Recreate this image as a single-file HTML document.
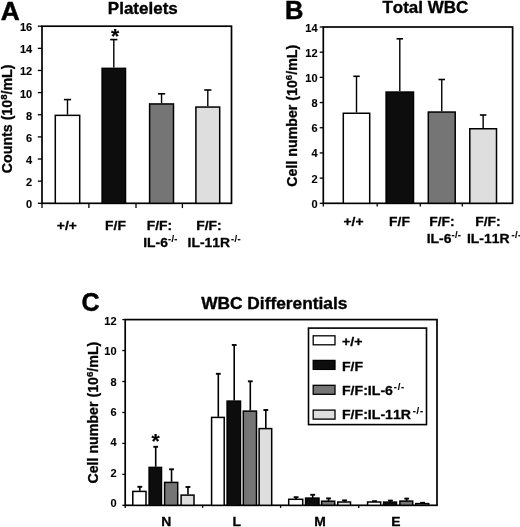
<!DOCTYPE html>
<html><head><meta charset="utf-8"><title>Figure</title>
<style>
html,body{margin:0;padding:0;background:#fff;}
svg{display:block;}
text{font-kerning:none;}
</style></head>
<body>
<svg width="520" height="527" viewBox="0 0 520 527">
<defs><filter id="soft" x="0" y="0" width="520" height="527" filterUnits="userSpaceOnUse"><feGaussianBlur stdDeviation="0.42"/></filter></defs>
<rect x="0" y="0" width="520" height="527" fill="#fff"/>
<g filter="url(#soft)">
<text transform="translate(0.7,19.7) scale(1.02,1)" font-size="25.8" text-anchor="start" font-family="Liberation Sans, sans-serif" font-weight="bold" stroke="#000" stroke-width="0.5" stroke-linejoin="round">A</text>
<text transform="translate(142.8,14.4) scale(1.09,1)" font-size="15.6" text-anchor="middle" font-family="Liberation Sans, sans-serif" font-weight="bold" stroke="#000" stroke-width="0.35" stroke-linejoin="round">Platelets</text>
<rect x="42" y="26.2" width="189.50" height="177.10" fill="none" stroke="#000" stroke-width="1.7"/>
<line x1="37.8" y1="203.3" x2="42" y2="203.3" stroke="#000" stroke-width="1.3"/>
<text transform="translate(32.2,207.94) scale(1.0,1)" font-size="11" text-anchor="end" font-family="Liberation Sans, sans-serif" font-weight="bold" stroke="#000" stroke-width="0.12" stroke-linejoin="round">0</text>
<line x1="37.8" y1="181.16" x2="42" y2="181.16" stroke="#000" stroke-width="1.3"/>
<text transform="translate(32.2,185.86) scale(1.0,1)" font-size="11" text-anchor="end" font-family="Liberation Sans, sans-serif" font-weight="bold" stroke="#000" stroke-width="0.12" stroke-linejoin="round">2</text>
<line x1="37.8" y1="159.03" x2="42" y2="159.03" stroke="#000" stroke-width="1.3"/>
<text transform="translate(32.2,163.79) scale(1.0,1)" font-size="11" text-anchor="end" font-family="Liberation Sans, sans-serif" font-weight="bold" stroke="#000" stroke-width="0.12" stroke-linejoin="round">4</text>
<line x1="37.8" y1="136.89" x2="42" y2="136.89" stroke="#000" stroke-width="1.3"/>
<text transform="translate(32.2,141.71) scale(1.0,1)" font-size="11" text-anchor="end" font-family="Liberation Sans, sans-serif" font-weight="bold" stroke="#000" stroke-width="0.12" stroke-linejoin="round">6</text>
<line x1="37.8" y1="114.75" x2="42" y2="114.75" stroke="#000" stroke-width="1.3"/>
<text transform="translate(32.2,119.64) scale(1.0,1)" font-size="11" text-anchor="end" font-family="Liberation Sans, sans-serif" font-weight="bold" stroke="#000" stroke-width="0.12" stroke-linejoin="round">8</text>
<line x1="37.8" y1="92.61" x2="42" y2="92.61" stroke="#000" stroke-width="1.3"/>
<text transform="translate(32.2,97.56) scale(1.0,1)" font-size="11" text-anchor="end" font-family="Liberation Sans, sans-serif" font-weight="bold" stroke="#000" stroke-width="0.12" stroke-linejoin="round">10</text>
<line x1="37.8" y1="70.47" x2="42" y2="70.47" stroke="#000" stroke-width="1.3"/>
<text transform="translate(32.2,75.49) scale(1.0,1)" font-size="11" text-anchor="end" font-family="Liberation Sans, sans-serif" font-weight="bold" stroke="#000" stroke-width="0.12" stroke-linejoin="round">12</text>
<line x1="37.8" y1="48.34" x2="42" y2="48.34" stroke="#000" stroke-width="1.3"/>
<text transform="translate(32.2,53.41) scale(1.0,1)" font-size="11" text-anchor="end" font-family="Liberation Sans, sans-serif" font-weight="bold" stroke="#000" stroke-width="0.12" stroke-linejoin="round">14</text>
<line x1="37.8" y1="26.2" x2="42" y2="26.2" stroke="#000" stroke-width="1.3"/>
<text transform="translate(32.2,31.34) scale(1.0,1)" font-size="11" text-anchor="end" font-family="Liberation Sans, sans-serif" font-weight="bold" stroke="#000" stroke-width="0.12" stroke-linejoin="round">16</text>
<line x1="42" y1="203.3" x2="42" y2="208.10000000000002" stroke="#000" stroke-width="1.3"/>
<line x1="88.9" y1="203.3" x2="88.9" y2="208.10000000000002" stroke="#000" stroke-width="1.3"/>
<line x1="136.0" y1="203.3" x2="136.0" y2="208.10000000000002" stroke="#000" stroke-width="1.3"/>
<line x1="182.4" y1="203.3" x2="182.4" y2="208.10000000000002" stroke="#000" stroke-width="1.3"/>
<text transform="translate(12.0,118.85) rotate(-90) scale(1.015,1)" font-size="14.0" text-anchor="middle" font-family="Liberation Sans, sans-serif" font-weight="bold" stroke="#000" stroke-width="0.3" stroke-linejoin="round">Counts (10<tspan font-size="9.5" dy="-5.0">8</tspan><tspan dy="5.0">/mL)</tspan></text>
<line x1="67.5" y1="114.6" x2="67.5" y2="99.6" stroke="#000" stroke-width="1.4"/>
<line x1="63.9" y1="99.6" x2="71.1" y2="99.6" stroke="#000" stroke-width="1.6"/>
<rect x="55.3" y="115.35" width="24.40" height="87.95" fill="#ffffff" stroke="#000" stroke-width="1.5"/>
<line x1="113.8" y1="67.6" x2="113.8" y2="39.6" stroke="#000" stroke-width="1.4"/>
<line x1="110.2" y1="39.6" x2="117.39999999999999" y2="39.6" stroke="#000" stroke-width="1.6"/>
<rect x="102.1" y="68.35" width="23.40" height="134.95" fill="#0d0d0d" stroke="#000" stroke-width="1.5"/>
<line x1="161.55" y1="103.2" x2="161.55" y2="93.8" stroke="#000" stroke-width="1.4"/>
<line x1="157.95000000000002" y1="93.8" x2="165.15" y2="93.8" stroke="#000" stroke-width="1.6"/>
<rect x="149.60000000000002" y="103.95" width="23.90" height="99.35" fill="#757575" stroke="#000" stroke-width="1.5"/>
<line x1="207.8" y1="106.3" x2="207.8" y2="90" stroke="#000" stroke-width="1.4"/>
<line x1="204.20000000000002" y1="90" x2="211.4" y2="90" stroke="#000" stroke-width="1.6"/>
<rect x="195.9" y="107.05" width="23.80" height="96.25" fill="#dedede" stroke="#000" stroke-width="1.5"/>
<text transform="translate(115.2,42.9) scale(1.0,1)" font-size="21" text-anchor="middle" font-family="Liberation Sans, sans-serif" font-weight="bold" stroke="#000" stroke-width="0.2" stroke-linejoin="round">*</text>
<text transform="translate(66.9,229.8) scale(1.045,1)" font-size="13.3" text-anchor="middle" font-family="Liberation Sans, sans-serif" font-weight="bold" stroke="#000" stroke-width="0.3" stroke-linejoin="round">+/+</text>
<text transform="translate(115.5,229.8) scale(1.045,1)" font-size="13.3" text-anchor="middle" font-family="Liberation Sans, sans-serif" font-weight="bold" stroke="#000" stroke-width="0.3" stroke-linejoin="round">F/F</text>
<text transform="translate(159.5,229.8) scale(1.045,1)" font-size="13.3" text-anchor="middle" font-family="Liberation Sans, sans-serif" font-weight="bold" stroke="#000" stroke-width="0.3" stroke-linejoin="round">F/F:</text>
<text transform="translate(209,229.8) scale(1.045,1)" font-size="13.3" text-anchor="middle" font-family="Liberation Sans, sans-serif" font-weight="bold" stroke="#000" stroke-width="0.3" stroke-linejoin="round">F/F:</text>
<text transform="translate(160.5,246.9) scale(1.045,1)" font-size="13.3" text-anchor="middle" font-family="Liberation Sans, sans-serif" font-weight="bold" stroke="#000" stroke-width="0.3" stroke-linejoin="round">IL-6<tspan font-size="9" dx="0" dy="-4.5" letter-spacing="0.3" stroke-width="0.15">-/-</tspan></text>
<text transform="translate(214.2,246.9) scale(1.045,1)" font-size="13.3" text-anchor="middle" font-family="Liberation Sans, sans-serif" font-weight="bold" stroke="#000" stroke-width="0.3" stroke-linejoin="round">IL-11R<tspan font-size="9" dx="1" dy="-4.5" letter-spacing="0.3" stroke-width="0.15">-/-</tspan></text>
<text transform="translate(284.9,18.9) scale(0.99,1)" font-size="25.8" text-anchor="start" font-family="Liberation Sans, sans-serif" font-weight="bold" stroke="#000" stroke-width="0.5" stroke-linejoin="round">B</text>
<text transform="translate(425.3,12.8) scale(1.09,1)" font-size="15.6" text-anchor="middle" font-family="Liberation Sans, sans-serif" font-weight="bold" stroke="#000" stroke-width="0.35" stroke-linejoin="round">Total WBC</text>
<rect x="323.3" y="27" width="189.30" height="176.30" fill="none" stroke="#000" stroke-width="1.7"/>
<line x1="319.7" y1="203.3" x2="323.3" y2="203.3" stroke="#000" stroke-width="1.3"/>
<text transform="translate(317.6,207.74) scale(1.0,1)" font-size="11" text-anchor="end" font-family="Liberation Sans, sans-serif" font-weight="bold" stroke="#000" stroke-width="0.12" stroke-linejoin="round">0</text>
<line x1="319.7" y1="178.11" x2="323.3" y2="178.11" stroke="#000" stroke-width="1.3"/>
<text transform="translate(317.6,182.61) scale(1.0,1)" font-size="11" text-anchor="end" font-family="Liberation Sans, sans-serif" font-weight="bold" stroke="#000" stroke-width="0.12" stroke-linejoin="round">2</text>
<line x1="319.7" y1="152.93" x2="323.3" y2="152.93" stroke="#000" stroke-width="1.3"/>
<text transform="translate(317.6,157.48) scale(1.0,1)" font-size="11" text-anchor="end" font-family="Liberation Sans, sans-serif" font-weight="bold" stroke="#000" stroke-width="0.12" stroke-linejoin="round">4</text>
<line x1="319.7" y1="127.74" x2="323.3" y2="127.74" stroke="#000" stroke-width="1.3"/>
<text transform="translate(317.6,132.35) scale(1.0,1)" font-size="11" text-anchor="end" font-family="Liberation Sans, sans-serif" font-weight="bold" stroke="#000" stroke-width="0.12" stroke-linejoin="round">6</text>
<line x1="319.7" y1="102.56" x2="323.3" y2="102.56" stroke="#000" stroke-width="1.3"/>
<text transform="translate(317.6,107.22) scale(1.0,1)" font-size="11" text-anchor="end" font-family="Liberation Sans, sans-serif" font-weight="bold" stroke="#000" stroke-width="0.12" stroke-linejoin="round">8</text>
<line x1="319.7" y1="77.37" x2="323.3" y2="77.37" stroke="#000" stroke-width="1.3"/>
<text transform="translate(317.6,82.1) scale(1.0,1)" font-size="11" text-anchor="end" font-family="Liberation Sans, sans-serif" font-weight="bold" stroke="#000" stroke-width="0.12" stroke-linejoin="round">10</text>
<line x1="319.7" y1="52.19" x2="323.3" y2="52.19" stroke="#000" stroke-width="1.3"/>
<text transform="translate(317.6,56.97) scale(1.0,1)" font-size="11" text-anchor="end" font-family="Liberation Sans, sans-serif" font-weight="bold" stroke="#000" stroke-width="0.12" stroke-linejoin="round">12</text>
<line x1="319.7" y1="27.0" x2="323.3" y2="27.0" stroke="#000" stroke-width="1.3"/>
<text transform="translate(317.6,31.84) scale(1.0,1)" font-size="11" text-anchor="end" font-family="Liberation Sans, sans-serif" font-weight="bold" stroke="#000" stroke-width="0.12" stroke-linejoin="round">14</text>
<line x1="323.3" y1="203.3" x2="323.3" y2="206.5" stroke="#000" stroke-width="1.3"/>
<line x1="377.2" y1="203.3" x2="377.2" y2="206.5" stroke="#000" stroke-width="1.3"/>
<line x1="420.3" y1="203.3" x2="420.3" y2="206.5" stroke="#000" stroke-width="1.3"/>
<line x1="462.3" y1="203.3" x2="462.3" y2="206.5" stroke="#000" stroke-width="1.3"/>
<text transform="translate(296.8,115.75) rotate(-90) scale(1.015,1)" font-size="14.0" text-anchor="middle" font-family="Liberation Sans, sans-serif" font-weight="bold" stroke="#000" stroke-width="0.3" stroke-linejoin="round">Cell number (10<tspan font-size="9.5" dy="-5.0">6</tspan><tspan dy="5.0">/mL)</tspan></text>
<line x1="356.5" y1="112.5" x2="356.5" y2="76.3" stroke="#000" stroke-width="1.4"/>
<line x1="353.25" y1="76.3" x2="359.75" y2="76.3" stroke="#000" stroke-width="1.6"/>
<rect x="343.3" y="113.25" width="26.40" height="90.05" fill="#ffffff" stroke="#000" stroke-width="1.5"/>
<line x1="399.8" y1="91.3" x2="399.8" y2="38.8" stroke="#000" stroke-width="1.4"/>
<line x1="396.55" y1="38.8" x2="403.05" y2="38.8" stroke="#000" stroke-width="1.6"/>
<rect x="386.1" y="92.05" width="27.40" height="111.25" fill="#0d0d0d" stroke="#000" stroke-width="1.5"/>
<line x1="441.75" y1="111.3" x2="441.75" y2="79.5" stroke="#000" stroke-width="1.4"/>
<line x1="438.5" y1="79.5" x2="445.0" y2="79.5" stroke="#000" stroke-width="1.6"/>
<rect x="428.3" y="112.05" width="26.90" height="91.25" fill="#757575" stroke="#000" stroke-width="1.5"/>
<line x1="483.15" y1="128" x2="483.15" y2="115" stroke="#000" stroke-width="1.4"/>
<line x1="479.9" y1="115" x2="486.4" y2="115" stroke="#000" stroke-width="1.6"/>
<rect x="469.8" y="128.75" width="26.70" height="74.55" fill="#dedede" stroke="#000" stroke-width="1.5"/>
<text transform="translate(353.5,225.8) scale(1.045,1)" font-size="13.3" text-anchor="middle" font-family="Liberation Sans, sans-serif" font-weight="bold" stroke="#000" stroke-width="0.3" stroke-linejoin="round">+/+</text>
<text transform="translate(399.5,225.8) scale(1.045,1)" font-size="13.3" text-anchor="middle" font-family="Liberation Sans, sans-serif" font-weight="bold" stroke="#000" stroke-width="0.3" stroke-linejoin="round">F/F</text>
<text transform="translate(442,225.8) scale(1.045,1)" font-size="13.3" text-anchor="middle" font-family="Liberation Sans, sans-serif" font-weight="bold" stroke="#000" stroke-width="0.3" stroke-linejoin="round">F/F:</text>
<text transform="translate(488,225.8) scale(1.045,1)" font-size="13.3" text-anchor="middle" font-family="Liberation Sans, sans-serif" font-weight="bold" stroke="#000" stroke-width="0.3" stroke-linejoin="round">F/F:</text>
<text transform="translate(444,242.7) scale(1.045,1)" font-size="13.3" text-anchor="middle" font-family="Liberation Sans, sans-serif" font-weight="bold" stroke="#000" stroke-width="0.3" stroke-linejoin="round">IL-6<tspan font-size="9" dx="0" dy="-4.5" letter-spacing="0.3" stroke-width="0.15">-/-</tspan></text>
<text transform="translate(467.0,242.7) scale(1.045,1)" font-size="13.3" text-anchor="start" font-family="Liberation Sans, sans-serif" font-weight="bold" stroke="#000" stroke-width="0.3" stroke-linejoin="round">IL-11R<tspan font-size="9" dx="2" dy="-4.5" letter-spacing="0.3" stroke-width="0.15">-/-</tspan></text>
<text transform="translate(81.6,311.3) scale(0.94,1)" font-size="26.6" text-anchor="start" font-family="Liberation Sans, sans-serif" font-weight="bold" stroke="#000" stroke-width="0.5" stroke-linejoin="round">C</text>
<text transform="translate(274.3,309.4) scale(1.11,1)" font-size="15.6" text-anchor="middle" font-family="Liberation Sans, sans-serif" font-weight="bold" stroke="#000" stroke-width="0.35" stroke-linejoin="round">WBC Differentials</text>
<rect x="125.2" y="319.6" width="311.80" height="185.70" fill="none" stroke="#000" stroke-width="1.7"/>
<line x1="122.3" y1="505.3" x2="125.2" y2="505.3" stroke="#000" stroke-width="1.3"/>
<text transform="translate(116.6,507.04) scale(1.0,1)" font-size="11" text-anchor="end" font-family="Liberation Sans, sans-serif" font-weight="bold" stroke="#000" stroke-width="0.12" stroke-linejoin="round">0</text>
<line x1="122.3" y1="474.35" x2="125.2" y2="474.35" stroke="#000" stroke-width="1.3"/>
<text transform="translate(116.6,476.7) scale(1.0,1)" font-size="11" text-anchor="end" font-family="Liberation Sans, sans-serif" font-weight="bold" stroke="#000" stroke-width="0.12" stroke-linejoin="round">2</text>
<line x1="122.3" y1="443.4" x2="125.2" y2="443.4" stroke="#000" stroke-width="1.3"/>
<text transform="translate(116.6,446.37) scale(1.0,1)" font-size="11" text-anchor="end" font-family="Liberation Sans, sans-serif" font-weight="bold" stroke="#000" stroke-width="0.12" stroke-linejoin="round">4</text>
<line x1="122.3" y1="412.45" x2="125.2" y2="412.45" stroke="#000" stroke-width="1.3"/>
<text transform="translate(116.6,416.04) scale(1.0,1)" font-size="11" text-anchor="end" font-family="Liberation Sans, sans-serif" font-weight="bold" stroke="#000" stroke-width="0.12" stroke-linejoin="round">6</text>
<line x1="122.3" y1="381.5" x2="125.2" y2="381.5" stroke="#000" stroke-width="1.3"/>
<text transform="translate(116.6,385.7) scale(1.0,1)" font-size="11" text-anchor="end" font-family="Liberation Sans, sans-serif" font-weight="bold" stroke="#000" stroke-width="0.12" stroke-linejoin="round">8</text>
<line x1="122.3" y1="350.55" x2="125.2" y2="350.55" stroke="#000" stroke-width="1.3"/>
<text transform="translate(116.6,355.37) scale(1.0,1)" font-size="11" text-anchor="end" font-family="Liberation Sans, sans-serif" font-weight="bold" stroke="#000" stroke-width="0.12" stroke-linejoin="round">10</text>
<line x1="122.3" y1="319.6" x2="125.2" y2="319.6" stroke="#000" stroke-width="1.3"/>
<text transform="translate(116.6,325.04) scale(1.0,1)" font-size="11" text-anchor="end" font-family="Liberation Sans, sans-serif" font-weight="bold" stroke="#000" stroke-width="0.12" stroke-linejoin="round">12</text>
<line x1="125.2" y1="505.3" x2="125.2" y2="507.90000000000003" stroke="#000" stroke-width="1.3"/>
<line x1="202.6" y1="505.3" x2="202.6" y2="507.90000000000003" stroke="#000" stroke-width="1.3"/>
<line x1="280.6" y1="505.3" x2="280.6" y2="507.90000000000003" stroke="#000" stroke-width="1.3"/>
<line x1="358.7" y1="505.3" x2="358.7" y2="507.90000000000003" stroke="#000" stroke-width="1.3"/>
<text transform="translate(98.0,412.65000000000003) rotate(-90) scale(1.015,1)" font-size="14.0" text-anchor="middle" font-family="Liberation Sans, sans-serif" font-weight="bold" stroke="#000" stroke-width="0.3" stroke-linejoin="round">Cell number (10<tspan font-size="9.5" dy="-5.0">6</tspan><tspan dy="5.0">/mL)</tspan></text>
<line x1="139.8" y1="490.8" x2="139.8" y2="486.8" stroke="#000" stroke-width="1.6"/>
<line x1="137.4" y1="486.8" x2="142.20000000000002" y2="486.8" stroke="#000" stroke-width="1.9"/>
<rect x="132.8" y="491.40000000000003" width="13.20" height="13.90" fill="#ffffff" stroke="#000" stroke-width="1.5"/>
<line x1="155.70000000000002" y1="466.8" x2="155.70000000000002" y2="446.8" stroke="#000" stroke-width="1.6"/>
<line x1="153.3" y1="446.8" x2="158.10000000000002" y2="446.8" stroke="#000" stroke-width="1.9"/>
<rect x="149.10000000000002" y="467.40000000000003" width="12.40" height="37.90" fill="#0d0d0d" stroke="#000" stroke-width="1.5"/>
<line x1="171.55" y1="481.8" x2="171.55" y2="469.3" stroke="#000" stroke-width="1.6"/>
<line x1="169.15" y1="469.3" x2="173.95000000000002" y2="469.3" stroke="#000" stroke-width="1.9"/>
<rect x="164.60000000000002" y="482.40000000000003" width="13.10" height="22.90" fill="#757575" stroke="#000" stroke-width="1.5"/>
<line x1="187.95000000000002" y1="494.5" x2="187.95000000000002" y2="487" stroke="#000" stroke-width="1.6"/>
<line x1="185.55" y1="487" x2="190.35000000000002" y2="487" stroke="#000" stroke-width="1.9"/>
<rect x="181.10000000000002" y="495.1" width="12.90" height="10.20" fill="#dedede" stroke="#000" stroke-width="1.5"/>
<line x1="218.3" y1="416.8" x2="218.3" y2="373.8" stroke="#000" stroke-width="1.6"/>
<line x1="215.9" y1="373.8" x2="220.70000000000002" y2="373.8" stroke="#000" stroke-width="1.9"/>
<rect x="211.60000000000002" y="417.40000000000003" width="12.60" height="87.90" fill="#ffffff" stroke="#000" stroke-width="1.5"/>
<line x1="234.20000000000002" y1="400.5" x2="234.20000000000002" y2="345" stroke="#000" stroke-width="1.6"/>
<line x1="231.8" y1="345" x2="236.60000000000002" y2="345" stroke="#000" stroke-width="1.9"/>
<rect x="227.10000000000002" y="401.1" width="13.40" height="104.20" fill="#0d0d0d" stroke="#000" stroke-width="1.5"/>
<line x1="250.3" y1="410.5" x2="250.3" y2="381.3" stroke="#000" stroke-width="1.6"/>
<line x1="247.9" y1="381.3" x2="252.70000000000002" y2="381.3" stroke="#000" stroke-width="1.9"/>
<rect x="243.3" y="411.1" width="13.20" height="94.20" fill="#757575" stroke="#000" stroke-width="1.5"/>
<line x1="265.79999999999995" y1="428" x2="265.79999999999995" y2="410" stroke="#000" stroke-width="1.6"/>
<line x1="263.4" y1="410" x2="268.19999999999993" y2="410" stroke="#000" stroke-width="1.9"/>
<rect x="259.1" y="428.6" width="12.60" height="76.70" fill="#dedede" stroke="#000" stroke-width="1.5"/>
<line x1="296.09999999999997" y1="499.2" x2="296.09999999999997" y2="497.2" stroke="#000" stroke-width="1.6"/>
<line x1="293.7" y1="497.2" x2="298.49999999999994" y2="497.2" stroke="#000" stroke-width="1.9"/>
<rect x="288.7" y="499.3" width="14.00" height="6.00" fill="#ffffff" stroke="#000" stroke-width="1.5"/>
<line x1="312.7" y1="498.0" x2="312.7" y2="494.8" stroke="#000" stroke-width="1.6"/>
<line x1="310.3" y1="494.8" x2="315.09999999999997" y2="494.8" stroke="#000" stroke-width="1.9"/>
<rect x="305.6" y="498.1" width="13.40" height="7.20" fill="#0d0d0d" stroke="#000" stroke-width="1.5"/>
<line x1="328.54999999999995" y1="501.1" x2="328.54999999999995" y2="498.4" stroke="#000" stroke-width="1.6"/>
<line x1="326.15" y1="498.4" x2="330.94999999999993" y2="498.4" stroke="#000" stroke-width="1.9"/>
<rect x="321.6" y="501.20000000000005" width="13.10" height="4.10" fill="#757575" stroke="#000" stroke-width="1.5"/>
<line x1="344.54999999999995" y1="501.9" x2="344.54999999999995" y2="500.4" stroke="#000" stroke-width="1.6"/>
<line x1="342.15" y1="500.4" x2="346.94999999999993" y2="500.4" stroke="#000" stroke-width="1.9"/>
<rect x="337.8" y="502.0" width="12.70" height="3.30" fill="#dedede" stroke="#000" stroke-width="1.5"/>
<line x1="374.54999999999995" y1="501.9" x2="374.54999999999995" y2="501.2" stroke="#000" stroke-width="1.6"/>
<line x1="372.15" y1="501.2" x2="376.94999999999993" y2="501.2" stroke="#000" stroke-width="1.9"/>
<rect x="367.6" y="502.0" width="13.10" height="3.30" fill="#ffffff" stroke="#000" stroke-width="1.5"/>
<line x1="390.45" y1="502" x2="390.45" y2="500.6" stroke="#000" stroke-width="1.6"/>
<line x1="388.05" y1="500.6" x2="392.84999999999997" y2="500.6" stroke="#000" stroke-width="1.9"/>
<rect x="383.6" y="502.1" width="12.90" height="3.20" fill="#0d0d0d" stroke="#000" stroke-width="1.5"/>
<line x1="406.7" y1="501" x2="406.7" y2="498.6" stroke="#000" stroke-width="1.6"/>
<line x1="404.3" y1="498.6" x2="409.09999999999997" y2="498.6" stroke="#000" stroke-width="1.9"/>
<rect x="399.90000000000003" y="501.1" width="12.80" height="4.20" fill="#757575" stroke="#000" stroke-width="1.5"/>
<line x1="422.59999999999997" y1="503.5" x2="422.59999999999997" y2="502.8" stroke="#000" stroke-width="1.6"/>
<line x1="420.2" y1="502.8" x2="424.99999999999994" y2="502.8" stroke="#000" stroke-width="1.9"/>
<rect x="415.7" y="503.6" width="13.00" height="1.70" fill="#dedede" stroke="#000" stroke-width="1.5"/>
<text transform="translate(155.6,447.6) scale(1.0,1)" font-size="21" text-anchor="middle" font-family="Liberation Sans, sans-serif" font-weight="bold" stroke="#000" stroke-width="0.2" stroke-linejoin="round">*</text>
<text transform="translate(166.3,525.5) scale(1.045,1)" font-size="13.3" text-anchor="middle" font-family="Liberation Sans, sans-serif" font-weight="bold" stroke="#000" stroke-width="0.3" stroke-linejoin="round">N</text>
<text transform="translate(236.8,525.5) scale(1.045,1)" font-size="13.3" text-anchor="middle" font-family="Liberation Sans, sans-serif" font-weight="bold" stroke="#000" stroke-width="0.3" stroke-linejoin="round">L</text>
<text transform="translate(320,525.5) scale(1.045,1)" font-size="13.3" text-anchor="middle" font-family="Liberation Sans, sans-serif" font-weight="bold" stroke="#000" stroke-width="0.3" stroke-linejoin="round">M</text>
<text transform="translate(395.8,525.5) scale(1.045,1)" font-size="13.3" text-anchor="middle" font-family="Liberation Sans, sans-serif" font-weight="bold" stroke="#000" stroke-width="0.3" stroke-linejoin="round">E</text>
<rect x="308.5" y="328.1" width="118.00" height="96.50" fill="none" stroke="#000" stroke-width="1.6"/>
<rect x="313.2" y="335.8" width="21.80" height="9.00" fill="#ffffff" stroke="#000" stroke-width="1.3"/>
<rect x="313.2" y="360.4" width="21.80" height="9.00" fill="#0d0d0d" stroke="#000" stroke-width="1.3"/>
<rect x="313.2" y="385.3" width="21.80" height="9.00" fill="#757575" stroke="#000" stroke-width="1.3"/>
<rect x="313.2" y="410.1" width="21.80" height="9.00" fill="#dedede" stroke="#000" stroke-width="1.3"/>
<text transform="translate(342,346.4) scale(1.07,1)" font-size="13.2" text-anchor="start" font-family="Liberation Sans, sans-serif" font-weight="bold" stroke="#000" stroke-width="0.3" stroke-linejoin="round">+/+</text>
<text transform="translate(342,370.7) scale(1.07,1)" font-size="13.2" text-anchor="start" font-family="Liberation Sans, sans-serif" font-weight="bold" stroke="#000" stroke-width="0.3" stroke-linejoin="round">F/F</text>
<text transform="translate(342,394.7) scale(1.07,1)" font-size="13.2" text-anchor="start" font-family="Liberation Sans, sans-serif" font-weight="bold" stroke="#000" stroke-width="0.3" stroke-linejoin="round">F/F:IL-6<tspan font-size="8.8" dx="0.8" dy="-4.4" letter-spacing="0.7" stroke-width="0.15">-/-</tspan></text>
<text transform="translate(342,418.5) scale(1.07,1)" font-size="13.2" text-anchor="start" font-family="Liberation Sans, sans-serif" font-weight="bold" stroke="#000" stroke-width="0.3" stroke-linejoin="round">F/F:IL-11R<tspan font-size="8.8" dx="1.6" dy="-4.4" letter-spacing="0.7" stroke-width="0.15">-/-</tspan></text>
</g>
</svg>
</body></html>
